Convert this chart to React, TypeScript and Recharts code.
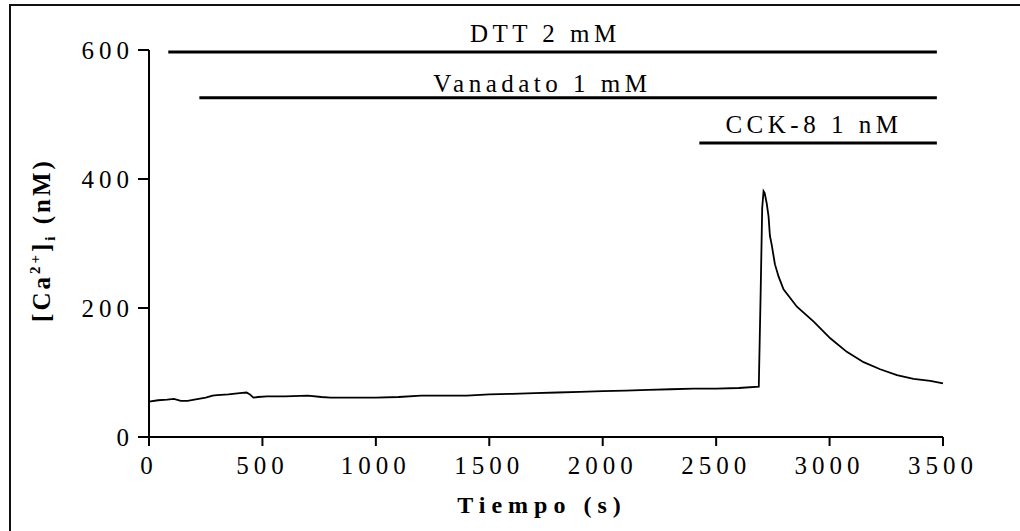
import React from 'react';
import { LineChart, Line, XAxis, YAxis, ReferenceLine, ReferenceDot, Label } from 'recharts';

// [Ca2+]i trace
const time = [
  0, 40, 80, 110, 140, 170, 200, 250, 280, 300, 350, 400, 430, 445, 460, 480, 520, 600, 700, 760,
  800, 900, 1000, 1100, 1200, 1300, 1400, 1500, 1600, 1700, 1800, 1900, 2000, 2100, 2200, 2300,
  2400, 2500, 2600, 2688, 2696, 2703, 2709, 2714, 2723, 2731, 2737, 2745, 2759, 2775, 2797, 2856,
  2930, 3003, 3076, 3150, 3223, 3297, 3370, 3444, 3500,
];
const calcium = [
  55, 57, 58, 59, 56, 56, 58, 61, 64, 65, 66, 68, 69, 66, 61, 62, 63, 63, 64, 62,
  61, 61, 61, 62, 64, 64, 64, 66, 67, 68, 69, 70, 71, 72, 73, 74,
  75, 75, 76, 78, 220, 355, 381, 378, 362, 342, 312, 298, 268, 249, 229, 202,
  179, 153, 132, 116, 105, 96, 90, 87, 83,
];

const xTicks = [0, 500, 1000, 1500, 2000, 2500, 3000, 3500];
const yTicks = [0, 200, 400, 600];

// treatment bars: start/end in s, level in nM
const treatments = [
  { name: 'DTT 2 mM', start: 85, end: 3473, level: 597 },
  { name: 'Vanadato 1 mM', start: 222, end: 3473, level: 526 },
  { name: 'CCK-8 1 nM', start: 2426, end: 3473, level: 456 },
];
// where each treatment name sits (text baseline)
const treatmentLabels = [
  { name: 'DTT 2 mM', x: 1747, y: 613 },
  { name: 'Vanadato 1 mM', x: 1734, y: 535 },
  { name: 'CCK-8 1 nM', x: 2931, y: 471 },
];

const data = time.map((t, i) => ({ t, ca: calcium[i] }));

const serif = 'Liberation Serif, Tinos, Times New Roman, Times, Noto Serif, DejaVu Serif, serif';
const tickStyle = { fill: '#000', fontSize: 25, fontFamily: serif, letterSpacing: 5 };

const TreatmentText = ({ viewBox, value }: any) => (
  <text
    x={viewBox.x}
    y={viewBox.y}
    textAnchor="middle"
    style={{ fontFamily: serif }}
    fontSize={25}
    letterSpacing={4.5}
    fill="#000"
  >
    {value}
  </text>
);

const XTitle = () => (
  <text x={546} y={513} dx={-4} textAnchor="middle" style={{ fontFamily: serif }} fontSize={24} fontWeight="bold" letterSpacing={6} fill="#000">
    Tiempo (s)
  </text>
);

const YTitle = () => (
  <text
    x={50}
    y={240}
    transform="rotate(-90, 50, 240)"
    textAnchor="middle"
    style={{ fontFamily: serif }}
    fontSize={25}
    fontWeight="bold"
    letterSpacing={3}
    fill="#000"
  >
    <tspan>[Ca</tspan>
    <tspan dy={-10} fontSize={15}>2+</tspan>
    <tspan dy={10}>]</tspan>
    <tspan dy={5} fontSize={15}>i</tspan>
    <tspan dy={-5}> (nM)</tspan>
  </text>
);

const App: React.FC = () => {
  return (
    <div style={{ position: 'absolute', top: 0, left: 0, width: 1020, height: 531, background: '#fff', fontFamily: serif }}>
      <div
        style={{
          position: 'absolute',
          top: 4,
          left: 9,
          right: 0,
          bottom: 0,
          borderTop: '2px solid #111',
          borderLeft: '2px solid #111',
        }}
      />
      <LineChart width={1020} height={531} data={data} margin={{ top: 50, right: 77, bottom: 54, left: 89 }}>
        <XAxis
          dataKey="t"
          type="number"
          domain={[0, 3500]}
          ticks={xTicks}
          height={40}
          tickSize={9}
          tickMargin={10}
          tick={tickStyle}
          axisLine={{ stroke: '#000', strokeWidth: 2 }}
          tickLine={{ stroke: '#000', strokeWidth: 2 }}
        >
          <Label content={<XTitle />} />
        </XAxis>
        <YAxis
          type="number"
          domain={[0, 600]}
          ticks={yTicks}
          width={60}
          tickSize={11}
          tickMargin={4}
          tick={tickStyle}
          axisLine={{ stroke: '#000', strokeWidth: 2 }}
          tickLine={{ stroke: '#000', strokeWidth: 2 }}
        >
          <Label content={<YTitle />} />
        </YAxis>
        {treatments.map((tr) => (
          <ReferenceLine
            key={tr.name}
            segment={[
              { x: tr.start, y: tr.level },
              { x: tr.end, y: tr.level },
            ]}
            stroke="#000"
            strokeWidth={3}
            ifOverflow="visible"
          />
        ))}
        {treatmentLabels.map((lb) => (
          <ReferenceDot
            key={lb.name}
            x={lb.x}
            y={lb.y}
            r={0}
            fill="none"
            stroke="none"
            ifOverflow="visible"
            label={<TreatmentText value={lb.name} />}
          />
        ))}
        <Line
          type="linear"
          dataKey="ca"
          stroke="#000"
          strokeWidth={1.8}
          dot={false}
          isAnimationActive={false}
        />
      </LineChart>
    </div>
  );
};

export default App;
